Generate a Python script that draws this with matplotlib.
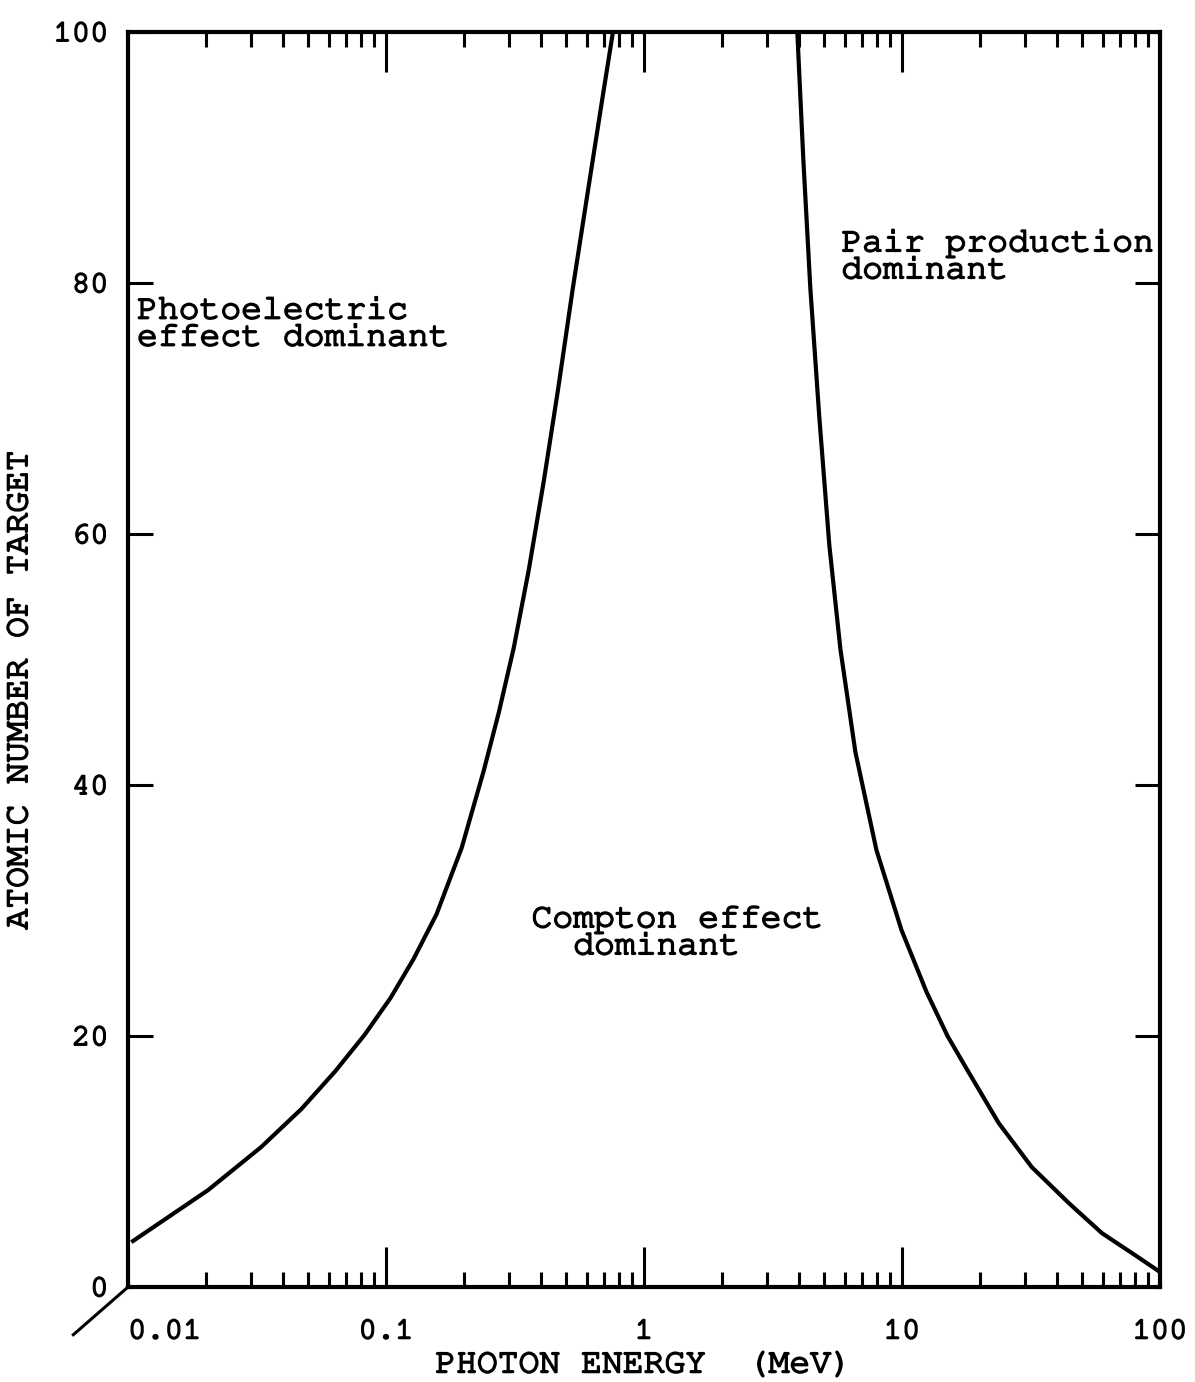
import logging
import numpy as np
import matplotlib
matplotlib.use("Agg")
import matplotlib.pyplot as plt
import matplotlib.patheffects as pe
from matplotlib.ticker import LogLocator, NullFormatter, FixedLocator, FixedFormatter

logging.getLogger("matplotlib.font_manager").setLevel(logging.ERROR)

# Boundary where photoelectric and Compton effects are equally likely
photo_compton_energy = [0.01046, 0.02045, 0.03284, 0.04696, 0.06367, 0.08249,
                        0.1041, 0.1279, 0.1571, 0.1964, 0.2391, 0.2734,
                        0.3127, 0.3575, 0.4089, 0.4634, 0.5300, 0.6062,
                        0.6932, 0.7580]
photo_compton_z = [3.67, 7.73, 11.16, 14.18, 17.21, 20.08,
                   23.03, 26.14, 29.72, 34.98, 41.12, 45.74,
                   50.92, 57.13, 64.22, 71.39, 79.60, 87.33,
                   94.98, 100.0]

# Boundary where Compton effect and pair production are equally likely
compton_pair_energy = [3.929, 4.145, 4.413, 4.781, 5.228, 5.771, 6.598, 7.961,
                       9.956, 12.45, 15.02, 17.64, 23.70, 31.84, 44.32, 59.52,
                       79.96, 100.0]
compton_pair_z = [100.0, 89.88, 79.60, 69.32, 59.12, 50.84, 42.63, 34.82,
                  28.45, 23.51, 20.0, 17.53, 13.07, 9.56, 6.69, 4.30,
                  2.55, 1.2]

x_ticks = [0.01, 0.1, 1, 10, 100]
x_tick_labels = ["0.01", "0.1", "1", "10", "100"]
y_ticks = [0, 20, 40, 60, 80, 100]
y_tick_labels = ["0", "20", "40", "60", "80", "100"]

# Prefer a typewriter face; fall back to the installed monospace families
plt.rcParams["font.family"] = ["Courier New", "Nimbus Mono PS", "FreeMono",
                               "Liberation Mono", "DejaVu Sans Mono"]

# Typewriter-like weight for all lettering
ink = [pe.withStroke(linewidth=1.3, foreground="black")]

fig = plt.figure(figsize=(11.95, 13.82), dpi=100)
ax = fig.add_axes([0.1071, 0.0687, 0.8636, 0.9081])

ax.plot(photo_compton_energy, photo_compton_z, color="black", lw=3.0,
        solid_joinstyle="round")
ax.plot(compton_pair_energy, compton_pair_z, color="black", lw=3.0,
        solid_joinstyle="round")

ax.set_xscale("log")
ax.set_xlim(0.01, 100)
ax.set_ylim(0, 100)

for s in ax.spines.values():
    s.set_linewidth(3.0)

ax.xaxis.set_major_locator(FixedLocator(x_ticks))
ax.xaxis.set_major_formatter(FixedFormatter(x_tick_labels))
ax.xaxis.set_minor_locator(LogLocator(base=10, subs=np.arange(2, 10)))
ax.xaxis.set_minor_formatter(NullFormatter())
ax.yaxis.set_major_locator(FixedLocator(y_ticks))
ax.yaxis.set_major_formatter(FixedFormatter(y_tick_labels))

ax.tick_params(axis="x", which="major", direction="in", top=True, bottom=True,
               length=29, width=2.2, labelsize=22, pad=24)
ax.tick_params(axis="x", which="minor", direction="in", top=True, bottom=True,
               length=11, width=2.2)
ax.tick_params(axis="y", which="major", direction="in", left=True, right=True,
               length=18, width=2.2, labelsize=22, pad=14)

for lbl in ax.get_xticklabels() + ax.get_yticklabels():
    lbl.set_path_effects(ink)

# First energy label sits just right of the corner
ax.get_xticklabels()[0].set_horizontalalignment("left")

# Break mark at the lower-left corner
ax.plot([-0.053, 0.0], [-0.038, 0.0], transform=ax.transAxes, color="black",
        lw=2.2, clip_on=False)

ax.set_xlabel("PHOTON ENERGY  (MeV)", fontsize=25, va="center",
              path_effects=ink)
ax.xaxis.set_label_coords(0.5, -0.062)
ax.set_ylabel("ATOMIC NUMBER OF TARGET", fontsize=25, va="center",
              path_effects=ink)
ax.yaxis.set_label_coords(-0.105, 0.476)

ax.text(0.01084, 76.7, "Photoelectric\neffect dominant", fontsize=25,
        ha="left", va="center", linespacing=1.0, path_effects=ink)
ax.text(5.82, 82.1, "Pair production\ndominant", fontsize=25,
        ha="left", va="center", linespacing=1.0, path_effects=ink)
ax.text(1.349, 28.2, "Compton effect\n  dominant", fontsize=25,
        ha="center", va="center", linespacing=1.0, multialignment="left",
        path_effects=ink)

fig.savefig("out.png", dpi=100, facecolor="white")
